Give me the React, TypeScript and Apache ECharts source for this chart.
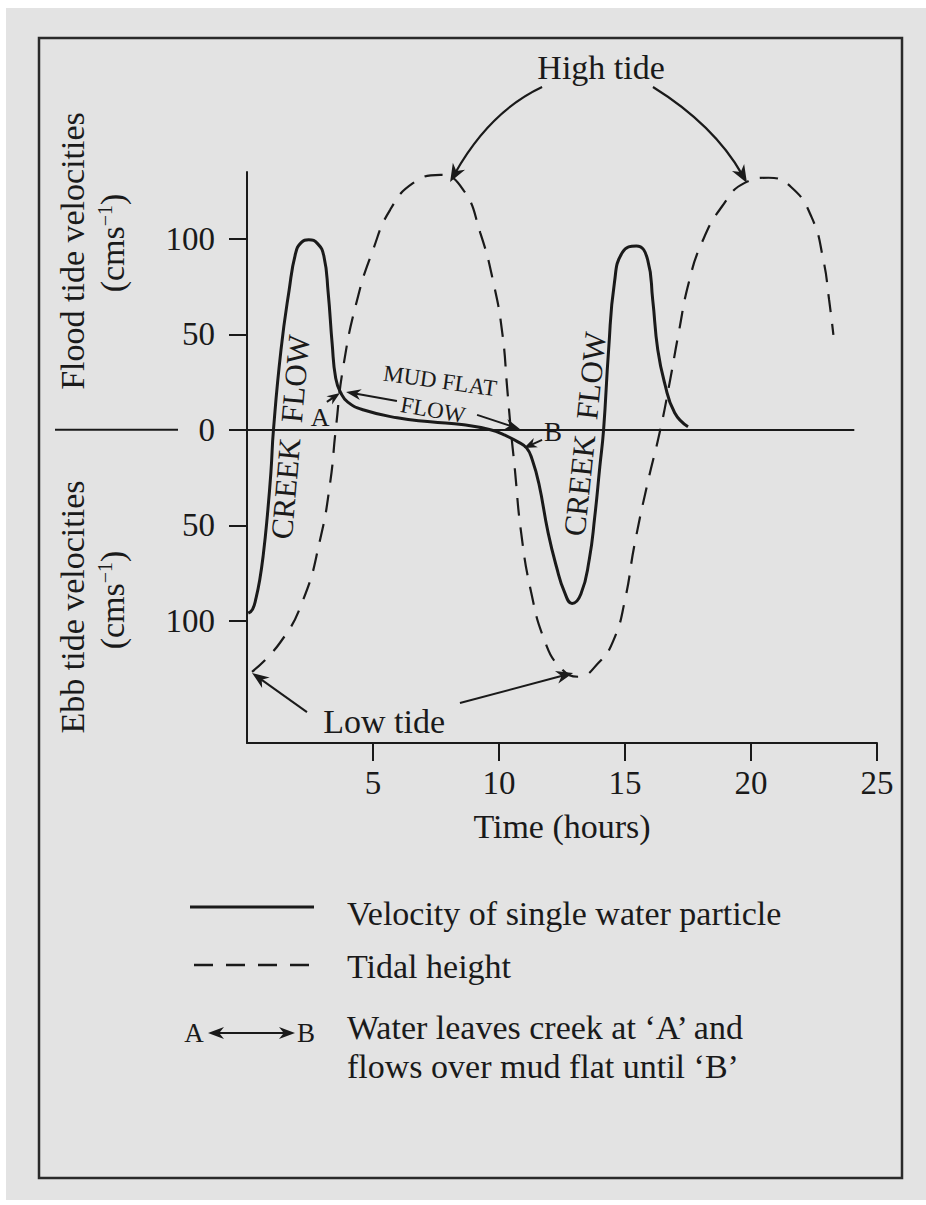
import React, { useEffect, useRef } from "react";
import * as echarts from "echarts";

// ---- data ----
const velocityHours = [0.05, 0.22, 0.36, 0.5, 0.65, 0.8, 0.95, 1.05, 1.35, 1.67, 1.93, 2.15, 2.45, 2.8, 3.05, 3.22, 3.38, 3.52, 3.72, 4.0, 4.6, 5.96, 7.27, 8.6, 9.66, 10.2, 10.75, 11.1, 11.32, 11.58, 11.95, 12.28, 12.6, 12.9, 13.25, 13.58, 13.8, 14.0, 14.15, 14.35, 14.58, 14.9, 15.45, 15.9, 16.1, 16.3, 16.57, 16.97, 17.5];
const velocityValues = [-96, -94, -88, -79, -65, -46, -22, 0, 42, 73, 92.5, 98, 99.5, 97.5, 91, 72, 45, 27, 19.4, 14.5, 10.5, 6.3, 4.2, 2.6, 0, -2.6, -6.3, -9.6, -15.7, -28, -54, -71.7, -85, -91, -86, -68, -45.5, -19.4, 0, 41.9, 77, 93, 96.3, 89, 68, 41.9, 24.6, 8.9, 1.6];

const tideHours = [0.2, 1.31, 2.23, 2.9, 3.3, 3.52, 3.82, 4.37, 5.0, 5.68, 6.6, 7.67, 8.58, 9.26, 9.78, 10.13, 10.33, 10.47, 10.62, 10.88, 11.28, 11.8, 12.4, 13.15, 13.95, 14.55, 15.0, 15.38, 15.9, 16.4, 16.77, 17.13, 17.53, 18.05, 18.84, 19.75, 20.7, 21.6, 22.4, 22.87, 23.1, 23.27];
const tideValues = [-126.7, -111.5, -89, -57.6, -27.7, 0, 33, 68, 94.2, 115.2, 129.3, 133.5, 125.7, 103, 77, 50.8, 21, 0, -19.4, -54, -85.3, -110, -124, -129.3, -122, -110, -89, -60, -27.7, 0, 24.6, 50.8, 77, 98, 116.8, 129.3, 132, 127, 111.5, 89, 68, 49.7];

const timeTicks = [5, 10, 15, 20, 25];
const velocityTicks = [-100, -50, 0, 50, 100];
const zeroLineEnd = 24.1;

const INK = "#1a1a1a";
const SERIF = "'Liberation Serif', 'DejaVu Serif', 'Times New Roman', serif";

type Pt = number[];

function head(tip: Pt, ux: number, uy: number, len = 17, half = 6.5) {
  const px = -uy, py = ux;
  const bx = tip[0] - ux * len, by = tip[1] - uy * len;
  const nx = tip[0] - ux * len * 0.7, ny = tip[1] - uy * len * 0.7;
  return {
    type: "polygon",
    silent: true,
    shape: { points: [[tip[0], tip[1]], [bx + px * half, by + py * half], [nx, ny], [bx - px * half, by - py * half]] },
    style: { fill: INK },
  };
}

function straightArrow(a: Pt, b: Pt, width = 2, len = 17, half = 6.5): any[] {
  const dx = b[0] - a[0], dy = b[1] - a[1];
  const d = Math.hypot(dx, dy);
  const ux = dx / d, uy = dy / d;
  const end = [b[0] - ux * len * 0.6, b[1] - uy * len * 0.6];
  return [
    { type: "line", silent: true, shape: { x1: a[0], y1: a[1], x2: end[0], y2: end[1] }, style: { stroke: INK, lineWidth: width } },
    head(b, ux, uy, len, half),
  ];
}

function curvedArrow(a: Pt, c: Pt, b: Pt, width = 2.2): any[] {
  const dx = b[0] - c[0], dy = b[1] - c[1];
  const d = Math.hypot(dx, dy);
  const ux = dx / d, uy = dy / d;
  const end = [b[0] - ux * 10, b[1] - uy * 10];
  return [
    {
      type: "bezierCurve",
      silent: true,
      shape: { x1: a[0], y1: a[1], x2: end[0], y2: end[1], cpx1: c[0], cpy1: c[1] },
      style: { stroke: INK, lineWidth: width, fill: "none" },
    },
    head(b, ux, uy, 18, 7),
  ];
}

function txt(x: number, y: number, text: string, fontSize: number, opts: any = {}) {
  return {
    type: "text",
    silent: true,
    x,
    y,
    rotation: opts.rotation || 0,
    style: {
      text,
      fontSize,
      fontFamily: SERIF,
      fill: INK,
      align: opts.align || "center",
      verticalAlign: "middle",
      rich: opts.rich,
    },
  };
}

export default function App() {
  const ref = useRef<HTMLDivElement>(null);

  useEffect(() => {
    if (!ref.current) return;
    const chart = echarts.init(ref.current, undefined, { renderer: "svg" });

    const velocityData = velocityHours.map((h, i) => [h, velocityValues[i]]);
    const tideData = tideHours.map((h, i) => [h, tideValues[i]]);

    chart.setOption({
      animation: false,
      backgroundColor: "transparent",
      grid: { left: 247, top: 172, width: 630, height: 571, containLabel: false },
      xAxis: {
        type: "value",
        min: 0,
        max: 25,
        axisLine: { show: true, onZero: false, lineStyle: { color: INK, width: 2 } },
        axisTick: { show: true, length: 18, customValues: timeTicks, lineStyle: { color: INK, width: 2 } },
        axisLabel: { customValues: timeTicks, margin: 23, fontSize: 33, fontFamily: SERIF, color: INK },
        splitLine: { show: false },
        name: "Time (hours)",
        nameLocation: "middle",
        nameGap: 66,
        nameTextStyle: { fontSize: 34, fontFamily: SERIF, color: INK },
      },
      yAxis: {
        type: "value",
        min: -164,
        max: 135,
        axisLine: { show: true, onZero: false, lineStyle: { color: INK, width: 2 } },
        axisTick: { show: true, length: 18, customValues: velocityTicks, lineStyle: { color: INK, width: 2 } },
        axisLabel: {
          customValues: velocityTicks,
          formatter: (v: number) => String(Math.abs(v)),
          margin: 32,
          fontSize: 33,
          fontFamily: SERIF,
          color: INK,
        },
        splitLine: { show: false },
      },
      series: [
        {
          name: "Velocity of single water particle",
          type: "line",
          data: velocityData,
          smooth: 0.5,
          symbol: "none",
          silent: true,
          lineStyle: { color: INK, width: 3 },
          markLine: {
            silent: true,
            symbol: ["none", "none"],
            label: { show: false },
            lineStyle: { type: "solid", color: INK, width: 2 },
            data: [[{ coord: [0, 0] }, { coord: [zeroLineEnd, 0] }]],
          },
        },
        {
          name: "Tidal height",
          type: "line",
          data: tideData,
          smooth: 0.5,
          symbol: "none",
          silent: true,
          lineStyle: { color: INK, width: 2.2, type: [18, 12] },
        },
      ],
    });

    const P = (h: number, v: number) => chart.convertToPixel({ gridIndex: 0 }, [h, v]) as number[];
    const zero = P(0, 0);

    const supRich = { s: { fontSize: 20, fontFamily: SERIF, fill: INK, verticalAlign: "top", padding: [0, 0, 12, 0] } };

    const graphics: any[] = [
      // frame
      { type: "rect", silent: true, shape: { x: 39, y: 38, width: 863, height: 1140 }, style: { fill: "none", stroke: "#2a2a2a", lineWidth: 2.5 } },
      // zero line continuation left of the axis
      { type: "line", silent: true, shape: { x1: 55, y1: zero[1], x2: 178, y2: zero[1] }, style: { stroke: INK, lineWidth: 2 } },
      // y-axis titles
      txt(72, 251, "Flood tide velocities", 34, { rotation: Math.PI / 2 }),
      txt(112, 243, "(cms{s|−1})", 34, { rotation: Math.PI / 2, rich: supRich }),
      txt(72, 607, "Ebb tide velocities", 34, { rotation: Math.PI / 2 }),
      txt(112, 600, "(cms{s|−1})", 34, { rotation: Math.PI / 2, rich: supRich }),
    ];

    // High tide
    const ht = P(14.05, 189.5);
    graphics.push(txt(ht[0], ht[1], "High tide", 34));
    graphics.push(...curvedArrow(P(11.71, 179.5), P(9.64, 166.7), P(8.06, 129.8)));
    graphics.push(...curvedArrow(P(16.11, 179.5), P(18.53, 159.6), P(19.84, 129.2)));

    // Low tide
    const lt = P(5.44, -153);
    graphics.push(txt(lt[0], lt[1], "Low tide", 34));
    graphics.push(...straightArrow(P(2.38, -147.8), P(0.2, -127.3)));
    graphics.push(...straightArrow(P(8.45, -143.1), P(12.94, -127.3)));

    // Creek flow labels
    const c1 = P(1.71, -3.8);
    graphics.push(txt(c1[0], c1[1], "CREEK  FLOW", 31, { rotation: (85 * Math.PI) / 180 }));
    const c2 = P(13.41, -2.2);
    graphics.push(txt(c2[0], c2[1], "CREEK  FLOW", 31, { rotation: (84 * Math.PI) / 180 }));

    // Mud flat flow
    const mf = P(7.66, 25.6);
    graphics.push(txt(mf[0], mf[1], "MUD FLAT", 23, { rotation: (-8 * Math.PI) / 180 }));
    const fl = P(7.38, 10.4);
    graphics.push(txt(fl[0], fl[1], "FLOW", 23, { rotation: (-10 * Math.PI) / 180 }));
    graphics.push(...straightArrow(P(5.95, 15.1), P(3.93, 19.8), 2, 15, 5.5));
    graphics.push(...straightArrow(P(9.13, 7.8), P(10.83, 0.4), 2, 15, 5.5));

    // A and B
    const a = P(2.9, 6.2);
    graphics.push(txt(a[0], a[1], "A", 26));
    graphics.push(...straightArrow(P(3.17, 14.6), P(3.69, 19.3), 2, 13, 5));
    const b = P(12.14, -1.1);
    graphics.push(txt(b[0], b[1], "B", 27));
    graphics.push(...straightArrow(P(11.71, -5.3), P(10.99, -9.5), 2, 13, 5));

    // legend
    graphics.push({ type: "line", silent: true, shape: { x1: 190, y1: 907, x2: 314, y2: 907 }, style: { stroke: INK, lineWidth: 3 } });
    graphics.push(txt(347, 913, "Velocity of single water particle", 34, { align: "left" }));
    graphics.push({ type: "line", silent: true, shape: { x1: 194, y1: 965, x2: 312, y2: 965 }, style: { stroke: INK, lineWidth: 2.5, lineDash: [19, 13] } });
    graphics.push(txt(347, 966, "Tidal height", 34, { align: "left" }));
    graphics.push(txt(194, 1033, "A", 27));
    graphics.push(...straightArrow([250, 1033], [208, 1033], 2, 16, 6));
    graphics.push(...straightArrow([250, 1033], [295, 1033], 2, 16, 6));
    graphics.push(txt(306, 1033, "B", 27));
    graphics.push(txt(347, 1027, "Water leaves creek at ‘A’ and", 34, { align: "left" }));
    graphics.push(txt(347, 1066, "flows over mud flat until ‘B’", 34, { align: "left" }));

    chart.setOption({ graphic: { elements: graphics } });

    return () => chart.dispose();
  }, []);

  return (
    <div style={{ position: "absolute", left: 0, top: 0, width: 926, height: 1205, background: "#ffffff" }}>
      <div style={{ position: "absolute", left: 6, top: 8, width: 920, height: 1192, background: "#e3e3e3" }} />
      <div ref={ref} style={{ position: "absolute", left: 0, top: 0, width: 926, height: 1205 }} />
    </div>
  );
}
